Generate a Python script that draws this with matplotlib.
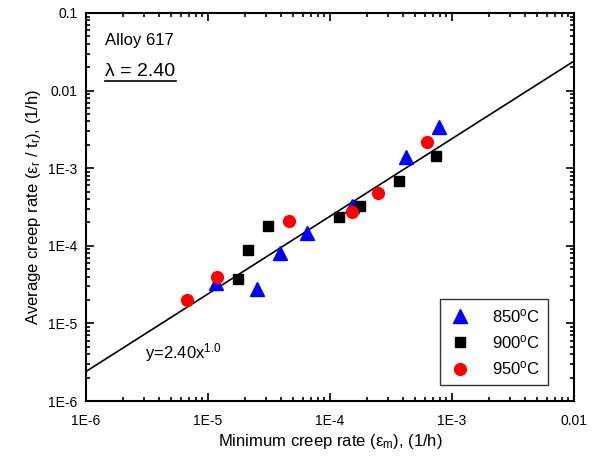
import matplotlib
matplotlib.use('Agg')
import matplotlib.pyplot as plt
import numpy as np
from matplotlib.lines import Line2D

plt.rcParams['font.family'] = ['Liberation Sans', 'DejaVu Sans']
plt.rcParams['mathtext.fontset'] = 'custom'
plt.rcParams['mathtext.rm'] = 'Liberation Sans'
plt.rcParams['mathtext.it'] = 'Liberation Sans:italic'

# minimum creep rate (1/h) vs average creep rate (1/h)
x_850 = [1.16e-5, 2.51e-5, 3.89e-5, 6.44e-5, 1.51e-4, 4.20e-4, 7.87e-4]
y_850 = [3.29e-5, 2.77e-5, 8.15e-5, 1.47e-4, 3.26e-4, 1.38e-3, 3.37e-3]

x_900 = [1.76e-5, 2.11e-5, 3.12e-5, 1.19e-4, 1.76e-4, 3.70e-4, 7.35e-4]
y_900 = [3.73e-5, 8.90e-5, 1.80e-4, 2.37e-4, 3.29e-4, 6.78e-4, 1.45e-3]

x_950 = [6.77e-6, 1.19e-5, 4.64e-5, 1.51e-4, 2.49e-4, 6.28e-4]
y_950 = [1.99e-5, 3.93e-5, 2.11e-4, 2.75e-4, 4.83e-4, 2.15e-3]

lam = 2.40
expo = 1.0
fit_x = [1e-6, 1e-2]

tick_vals_x = [1e-6, 1e-5, 1e-4, 1e-3, 1e-2]
tick_labs_x = ['1E-6', '1E-5', '1E-4', '1E-3', '0.01']
tick_vals_y = [1e-6, 1e-5, 1e-4, 1e-3, 1e-2, 1e-1]
tick_labs_y = ['1E-6', '1E-5', '1E-4', '1E-3', '0.01', '0.1']

fig = plt.figure(figsize=(5.95, 4.57), dpi=100)
ax = fig.add_axes([0.1445, 0.1225, 0.8202, 0.8491])

fx = np.array(fit_x)
ax.plot(fx, lam * fx ** expo, color='black', lw=1.2, zorder=1)

ax.plot(x_850, y_850, ls='none', marker='^', ms=10, color='blue', label=u'850$^\\mathrm{o}$C')
ax.plot(x_900, y_900, ls='none', marker='s', ms=7.5, color='black', label=u'900$^\\mathrm{o}$C')
ax.plot(x_950, y_950, ls='none', marker='o', ms=8.5, color='red', label=u'950$^\\mathrm{o}$C')

ax.set_xscale('log')
ax.set_yscale('log')
ax.set_xlim(1e-6, 1e-2)
ax.set_ylim(1e-6, 1e-1)
ax.set_xticks(tick_vals_x, tick_labs_x)
ax.set_yticks(tick_vals_y, tick_labs_y)
ax.tick_params(which='both', direction='in', top=True, right=True, labelsize=10, width=1.2)
ax.tick_params(which='major', length=6, pad=6)
ax.tick_params(axis='x', which='major', pad=9)
ax.tick_params(which='minor', length=3)
for s in ax.spines.values():
    s.set_linewidth(1.5)

ax.set_xlabel(u'Minimum creep rate (\u03b5$_\\mathrm{m}$), (1/h)', fontsize=12, labelpad=3)
ax.set_ylabel(u'Average creep rate (\u03b5$_\\mathrm{r}$ / t$_\\mathrm{r}$), (1/h)', fontsize=12, labelpad=4)

ax.text(0.04, 0.93, 'Alloy 617', transform=ax.transAxes, fontsize=12, va='center')
lt = ax.text(0.04, 0.848, u'\u03bb = 2.40', transform=ax.transAxes, fontsize=14, va='center')
ax.text(0.12, 0.125, r'y=2.40x$^{1.0}$', transform=ax.transAxes, fontsize=12, va='center')

leg = ax.legend(loc='lower right', bbox_to_anchor=(0.947, 0.041), borderaxespad=0, fontsize=12,
                frameon=True, fancybox=False, edgecolor='black', handletextpad=1.2,
                borderpad=0.45, labelspacing=0.5, handlelength=1.5)
leg.get_frame().set_linewidth(1.0)

fig.canvas.draw()
bb = lt.get_window_extent().transformed(fig.transFigure.inverted())
fig.add_artist(Line2D([bb.x0, bb.x1], [bb.y0 - 0.002, bb.y0 - 0.002], color='black', lw=1.2))

fig.savefig('out.png', dpi=100)
